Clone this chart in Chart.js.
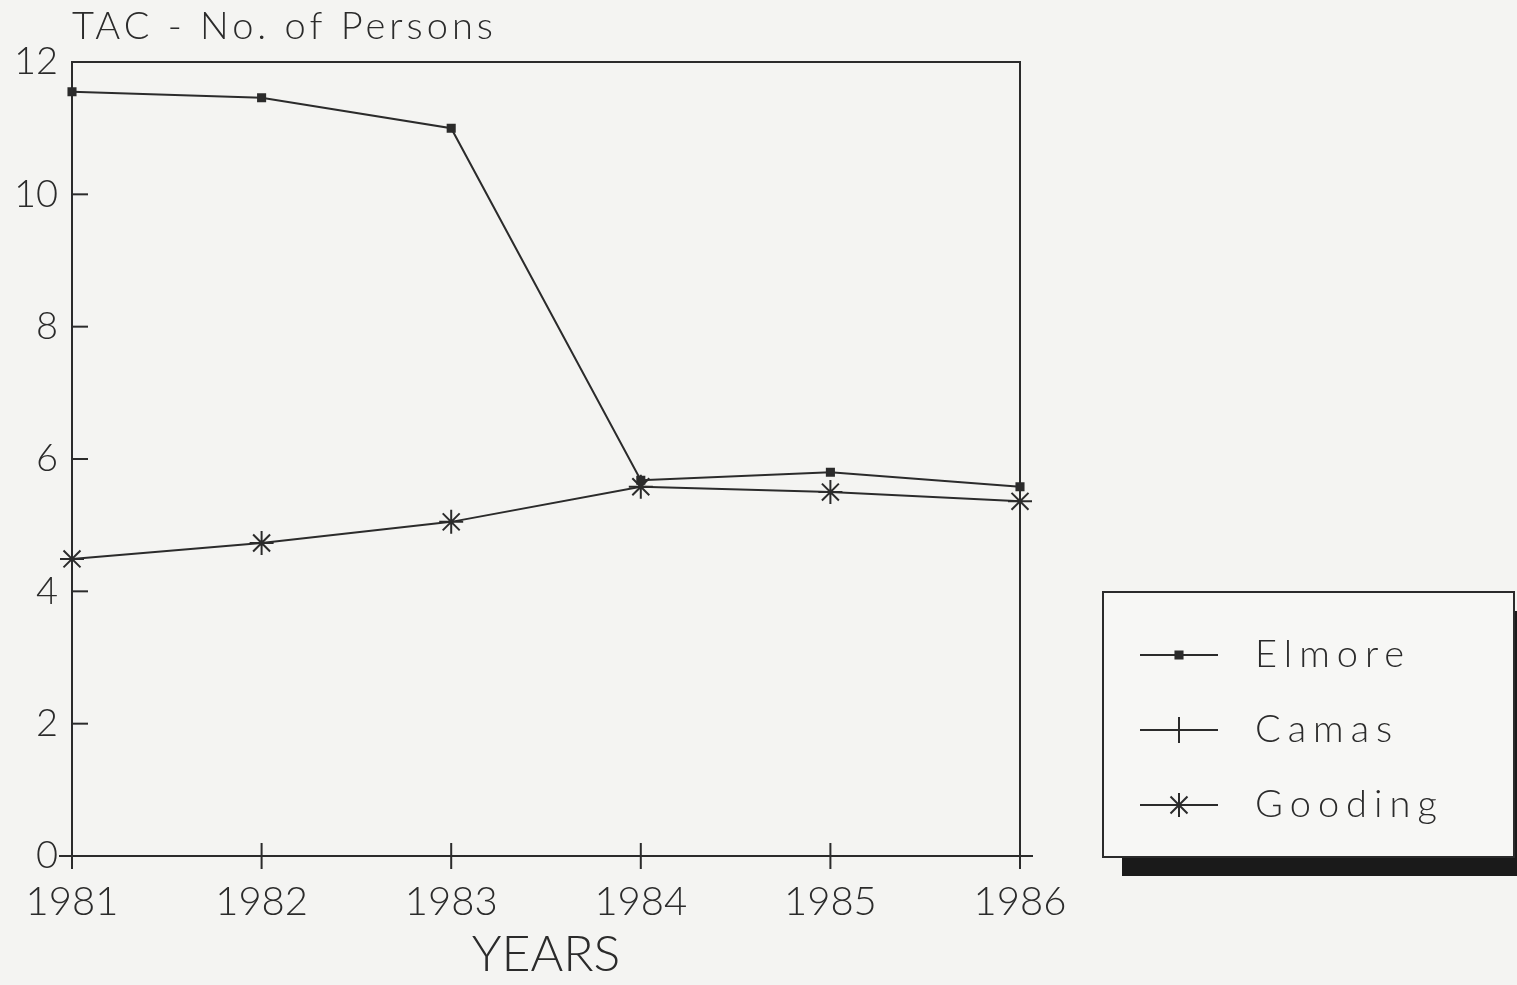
<!DOCTYPE html>
<html>
<head>
<meta charset="utf-8">
<title>TAC - No. of Persons</title>
<script src="https://cdn.jsdelivr.net/npm/chart.js@4.4.1/dist/chart.umd.min.js"></script>
<style>
  html, body { margin: 0; padding: 0; background: #f4f4f2; }
  #wrap { width: 1517px; height: 985px; position: relative; }
</style>
</head>
<body>
<div id="wrap"><canvas id="tac-chart"></canvas></div>
<script>
// values
const years = ['1981', '1982', '1983', '1984', '1985', '1986'];
const elmore = [11.55, 11.46, 11.0, 5.68, 5.8, 5.58];
const camas = [0, 0, 0, 0, 0, 0];
const gooding = [4.49, 4.73, 5.05, 5.58, 5.5, 5.36];
const seriesNames = ['Elmore', 'Camas', 'Gooding'];
const titleText = 'TAC - No. of Persons';
const xTitle = 'YEARS';

const INK = '#2b2b2b';
const LIGHT_FONT = 'Lato, "DejaVu Sans", sans-serif';

// frame box, inward y ticks, title and the boxed legend with shadow
const framePlugin = {
  id: 'frame',
  beforeDatasetsDraw(chart) {
    const { ctx, chartArea: a, scales } = chart;
    ctx.save();
    ctx.strokeStyle = INK;
    ctx.lineWidth = 2;
    ctx.strokeRect(a.left, a.top, a.right - a.left, a.bottom - a.top);
    // short ticks pointing into the plot
    scales.y.ticks.forEach(t => {
      const y = scales.y.getPixelForValue(t.value);
      ctx.beginPath();
      ctx.moveTo(a.left, y);
      ctx.lineTo(a.left + 16, y);
      ctx.stroke();
    });
    ctx.restore();
  },
  afterDraw(chart) {
    const { ctx, chartArea: a } = chart;
    ctx.save();
    // title over the plot
    ctx.fillStyle = INK;
    ctx.font = '300 38px ' + LIGHT_FONT;
    ctx.letterSpacing = '4px';
    ctx.textAlign = 'left';
    ctx.textBaseline = 'middle';
    ctx.fillText(titleText, a.left, 27);

    // legend box
    const box = { x: 1103, y: 592, w: 411, h: 265 };
    ctx.fillStyle = '#1a1a1a';
    ctx.fillRect(box.x + 19, box.y + 19, box.w, box.h);
    ctx.fillStyle = '#f7f7f5';
    ctx.fillRect(box.x, box.y, box.w, box.h);
    ctx.strokeStyle = INK;
    ctx.lineWidth = 2;
    ctx.strokeRect(box.x, box.y, box.w, box.h);

    const rows = [655, 730, 805];
    ctx.font = '300 38px ' + LIGHT_FONT;
    ctx.letterSpacing = '7px';
    chart.data.datasets.forEach((ds, i) => {
      const y = rows[i];
      ctx.strokeStyle = INK;
      ctx.fillStyle = INK;
      ctx.lineWidth = 2;
      ctx.beginPath();
      ctx.moveTo(1140, y);
      ctx.lineTo(1218, y);
      ctx.stroke();
      Chart.helpers.drawPoint(ctx, {
        pointStyle: ds.pointStyle,
        radius: ds.pointRadius,
        borderWidth: 2,
        rotation: 0
      }, 1179, y);
      ctx.fillStyle = INK;
      ctx.fillText(ds.label, 1255, y);
    });
    ctx.restore();
  }
};

const makeSeries = (label, data, style, radius) => ({
  label,
  data,
  borderColor: INK,
  backgroundColor: INK,
  borderWidth: 2,
  pointStyle: style,
  pointRadius: radius,
  pointBorderWidth: 2,
  pointBorderColor: INK,
  pointBackgroundColor: INK,
  tension: 0,
  clip: false
});

new Chart(document.getElementById('tac-chart'), {
  type: 'line',
  data: {
    labels: years,
    datasets: [
      makeSeries(seriesNames[0], elmore, 'rect', 5),
      makeSeries(seriesNames[1], camas, 'cross', 13),
      makeSeries(seriesNames[2], gooding, 'star', 12)
    ]
  },
  options: {
    responsive: true,
    maintainAspectRatio: false,
    animation: false,
    layout: { padding: { top: 62, right: 497, left: 0, bottom: 0 } },
    plugins: {
      legend: { display: false },
      tooltip: { enabled: false }
    },
    scales: {
      x: {
        offset: false,
        grid: { display: false, drawTicks: false },
        border: { display: false },
        ticks: {
          color: INK,
          padding: 22,
          maxRotation: 0,
          autoSkip: false,
          font: { family: LIGHT_FONT, size: 40, weight: '300' }
        },
        title: {
          display: true,
          text: xTitle,
          color: INK,
          padding: { top: 8, bottom: 0 },
          font: { family: LIGHT_FONT, size: 50, weight: '300' }
        },
        afterFit: s => { s.height = 129; }
      },
      y: {
        min: 0,
        max: 12,
        grid: { display: false, drawTicks: false },
        border: { display: false },
        ticks: {
          stepSize: 2,
          color: INK,
          padding: 14,
          font: { family: LIGHT_FONT, size: 38, weight: '300' }
        },
        afterFit: s => { s.width = 72; }
      }
    }
  },
  plugins: [framePlugin]
});
</script>
</body>
</html>
